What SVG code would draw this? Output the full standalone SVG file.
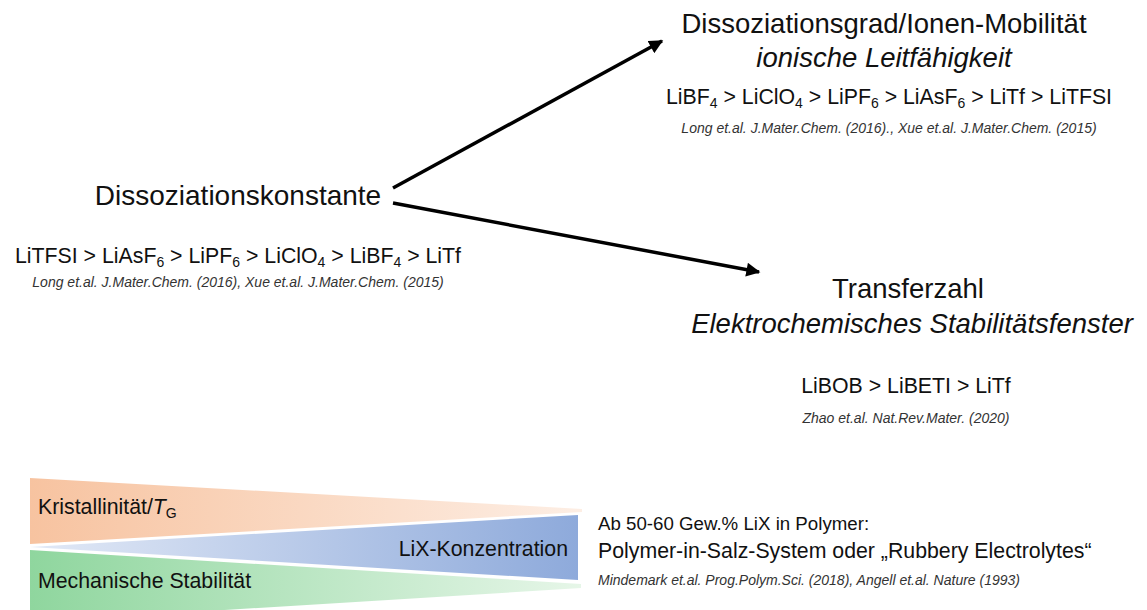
<svg xmlns="http://www.w3.org/2000/svg" width="1147" height="610" viewBox="0 0 1147 610">
  <style>
    text { font-family: "Liberation Sans", Arial, sans-serif; fill: #111; }
    .head { font-size: 27.5px; }
    .list { font-size: 21.3px; }
    .cite { font-size: 14px; font-style: italic; fill: #333; }
    .it { font-style: italic; }
    .sub { font-size: 14px; }
    .conn { stroke: #000; stroke-width: 3.5; fill: none; marker-end: url(#arrow); }
  </style>
  <defs>
    <marker id="arrow" viewBox="0 0 10 10" refX="9" refY="5" markerWidth="4.2" markerHeight="4" orient="auto" markerUnits="strokeWidth">
      <path d="M0,0 L10,5 L0,10 z" fill="#000"/>
    </marker>
    <linearGradient id="gOrange" x1="0" y1="0" x2="1" y2="0">
      <stop offset="0" stop-color="#f7c3a0"/>
      <stop offset="1" stop-color="#fdeee4"/>
    </linearGradient>
    <linearGradient id="gBlue" x1="0" y1="0" x2="1" y2="0">
      <stop offset="0" stop-color="#e2e9f6"/>
      <stop offset="1" stop-color="#8eaadb"/>
    </linearGradient>
    <linearGradient id="gGreen" x1="0" y1="0" x2="1" y2="0">
      <stop offset="0" stop-color="#8fd69e"/>
      <stop offset="1" stop-color="#e6f6e8"/>
    </linearGradient>
  </defs>

  <!-- Connectors -->
  <g id="connectors">
    <line class="conn" x1="393" y1="188" x2="662" y2="41"/>
    <line class="conn" x1="393" y1="203" x2="759" y2="272"/>
  </g>

  <!-- Source node -->
  <g id="node-dissoziationskonstante" text-anchor="middle">
    <text class="head" x="238" y="205" style="font-size:28px">Dissoziationskonstante</text>
    <text class="list" x="238" y="263">LiTFSI &gt; LiAsF<tspan class="sub" dy="4">6</tspan><tspan dy="-4"> &gt; LiPF</tspan><tspan class="sub" dy="4">6</tspan><tspan dy="-4"> &gt;  LiClO</tspan><tspan class="sub" dy="4">4</tspan><tspan dy="-4"> &gt; LiBF</tspan><tspan class="sub" dy="4">4</tspan><tspan dy="-4"> &gt; LiTf</tspan></text>
    <text class="cite" x="238" y="287">Long et.al. J.Mater.Chem. (2016), Xue et.al. J.Mater.Chem. (2015)</text>
  </g>

  <!-- Upper target -->
  <g id="node-leitfaehigkeit" text-anchor="middle">
    <text class="head" x="884" y="33">Dissoziationsgrad/Ionen-Mobilität</text>
    <text class="head it" x="884" y="67">ionische Leitfähigkeit</text>
    <text class="list" x="889" y="104">LiBF<tspan class="sub" dy="4">4</tspan><tspan dy="-4"> &gt; LiClO</tspan><tspan class="sub" dy="4">4</tspan><tspan dy="-4"> &gt; LiPF</tspan><tspan class="sub" dy="4">6</tspan><tspan dy="-4"> &gt; LiAsF</tspan><tspan class="sub" dy="4">6</tspan><tspan dy="-4"> &gt; LiTf &gt; LiTFSI</tspan></text>
    <text class="cite" x="889" y="133">Long et.al. J.Mater.Chem. (2016)., Xue et.al. J.Mater.Chem. (2015)</text>
  </g>

  <!-- Lower target -->
  <g id="node-transferzahl" text-anchor="middle">
    <text class="head" x="908" y="298">Transferzahl</text>
    <text class="head it" x="912" y="333">Elektrochemisches Stabilitätsfenster</text>
    <text class="list" x="906" y="393">LiBOB &gt; LiBETI &gt; LiTf</text>
    <text class="cite" x="906" y="423">Zhao et.al. Nat.Rev.Mater.  (2020)</text>
  </g>

  <!-- Concentration wedges -->
  <g id="node-wedges">
    <polygon points="30,478 582,509 582,512 30,544" fill="url(#gOrange)"/>
    <polygon points="30,547 578,515 578,580" fill="url(#gBlue)"/>
    <polygon points="30,550 581,584 581,588 30,622" fill="url(#gGreen)"/>
    <text class="list" x="38" y="514">Kristallinität/<tspan class="it">T</tspan><tspan class="sub" dy="4">G</tspan></text>
    <text class="list" x="568" y="556" text-anchor="end">LiX-Konzentration</text>
    <text class="list" x="38" y="588">Mechanische Stabilität</text>
  </g>

  <!-- High-salt note -->
  <g id="node-polymer-in-salz">
    <text x="598" y="530" style="font-size:18.7px">Ab 50-60 Gew.% LiX in Polymer:</text>
    <text class="list" x="598" y="558">Polymer-in-Salz-System oder „Rubbery Electrolytes“</text>
    <text class="cite" x="598" y="585">Mindemark et.al. Prog.Polym.Sci.  (2018), Angell et.al. Nature (1993)</text>
  </g>
</svg>
